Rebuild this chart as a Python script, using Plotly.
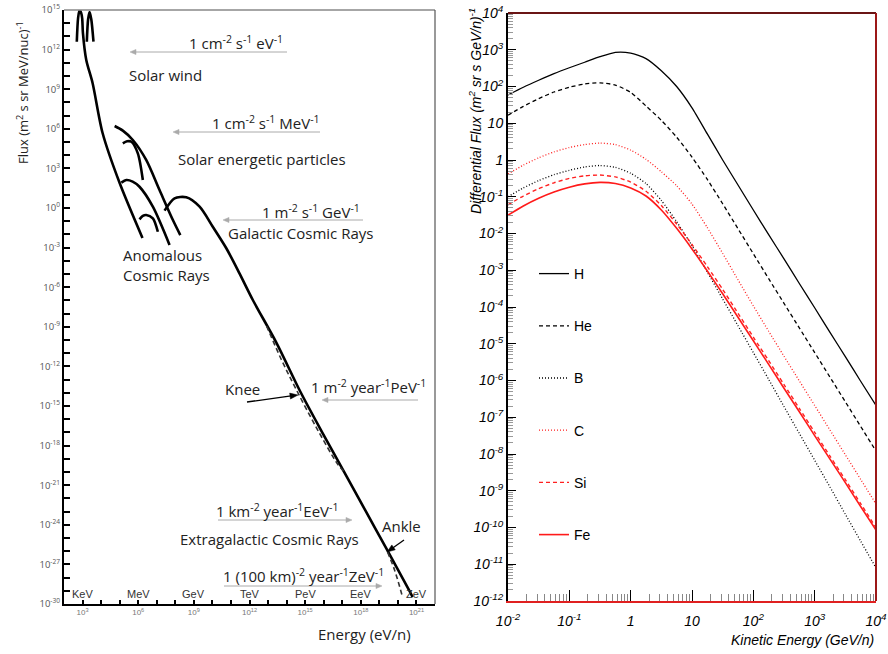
import numpy as np
import plotly.graph_objects as go

W, H = 888, 654

# ---------------- Left panel data (log10 E [eV/n], log10 flux) ----------------
sw1_logE = [2.69, 2.76, 2.84, 2.92, 2.98, 3.02, 3.20, 3.54, 4.08, 5.00, 6.23]
sw1_logF = [12.6, 14.4, 15.0, 14.8, 14.37, 13.26, 11.21, 9.47, 5.68, 1.89, -2.27]
sw2_logE = [3.23, 3.30, 3.38, 3.47, 3.59]
sw2_logF = [12.6, 14.3, 14.85, 14.3, 12.6]
sepA_logE = [4.73, 5.17, 5.71, 6.43, 7.15, 7.87, 8.27]
sepA_logF = [6.21, 5.86, 5.15, 3.64, 1.36, -0.91, -2.05]
sepB_logE = [5.17, 5.40, 5.63, 5.98, 6.25]
sepB_logF = [4.90, 5.05, 5.02, 4.14, 2.12]
acr1_logE = [5.09, 5.36, 5.70, 6.07, 6.79, 7.69]
acr1_logF = [1.92, 2.12, 2.00, 1.61, 0.10, -2.80]
acr2_logE = [6.07, 6.25, 6.43, 6.79, 7.06]
acr2_logF = [-0.86, -0.60, -0.53, -0.78, -1.80]
gcr_logE = [7.42, 7.96, 8.59, 9.31, 10.02, 10.75, 11.46, 12.18, 13.46, 14.75,
            15.94, 17.07, 18.26, 19.39, 20.63, 20.79]
gcr_logF = [-0.20, 0.73, 0.81, 0.10, -1.42, -3.05, -4.95, -6.97, -10.23, -13.94,
            -17.05, -19.92, -22.95, -25.83, -29.02, -29.47]
knee_logE = [12.92, 13.73, 14.48, 15.62, 16.75, 17.07]
knee_logF = [-8.94, -11.52, -13.64, -16.67, -19.39, -19.92]
gzk_logE = [19.44, 19.82, 20.25]
gzk_logF = [-26.06, -27.42, -29.47]

left_ytick_exp = list(range(-30, 16))
left_xtick_exp = list(range(2, 23))
unit_labels = ["KeV", "MeV", "GeV", "TeV", "PeV", "EeV", "ZeV"]
unit_exp = [3, 6, 9, 12, 15, 18, 21]

# ---------------- Right panel data (log10 E [GeV/n], log10 flux) ----------------
logE_r = [-2.0, -1.75, -1.5, -1.25, -1.0, -0.75, -0.5, -0.25, 0.0, 0.25, 0.5, 0.75, 1.0,
          1.25, 1.5, 1.75, 2.0, 2.25, 2.5, 2.75, 3.0, 3.25, 3.5, 3.75, 4.0]
logflux_H = [1.77, 1.98, 2.17, 2.35, 2.51, 2.66, 2.81, 2.93, 2.91, 2.76, 2.43, 2.00, 1.42,
             0.71, 0.0, -0.68, -1.36, -2.03, -2.69, -3.36, -4.02, -4.69, -5.35, -6.02, -6.68]
logflux_He = [1.22, 1.46, 1.67, 1.85, 1.98, 2.07, 2.10, 2.04, 1.84, 1.47, 1.08, 0.62, 0.08,
              -0.53, -1.19, -1.87, -2.55, -3.23, -3.90, -4.57, -5.24, -5.91, -6.58, -7.25, -7.92]
logflux_B = [-1.0, -0.76, -0.56, -0.40, -0.28, -0.19, -0.15, -0.20, -0.36, -0.64, -1.10, -1.68,
             -2.33, -3.05, -3.78, -4.51, -5.24, -5.97, -6.71, -7.44, -8.17, -8.90, -9.64, -10.37, -11.10]
logflux_C = [-0.38, -0.14, 0.06, 0.22, 0.34, 0.42, 0.46, 0.42, 0.27, 0.02, -0.32, -0.70, -1.20,
             -1.84, -2.54, -3.26, -3.97, -4.66, -5.34, -6.01, -6.68, -7.35, -8.02, -8.69, -9.36]
logflux_Si = [-1.22, -0.98, -0.78, -0.62, -0.50, -0.43, -0.41, -0.46, -0.60, -0.85, -1.24, -1.74,
              -2.30, -2.90, -3.52, -4.17, -4.82, -5.46, -6.11, -6.76, -7.41, -8.06, -8.70, -9.35, -10.0]
logflux_Fe = [-1.50, -1.25, -1.04, -0.87, -0.74, -0.65, -0.61, -0.64, -0.76, -0.98, -1.36, -1.86,
              -2.42, -3.02, -3.64, -4.28, -4.92, -5.56, -6.21, -6.85, -7.50, -8.14, -8.78, -9.43, -10.07]

right_ytick_exp = list(range(-12, 5))
right_xtick_exp = list(range(-2, 5))


def pw(v):
    return [10.0 ** a for a in v]


def sup_label(k):
    if k == 0:
        return "1"
    if k == 1:
        return "10"
    return "10<sup>%d</sup>" % k


def px(x):
    return x / W


def py(y):
    return 1 - y / H


fig = go.Figure()

# left curves
for le, lf in [(sw1_logE, sw1_logF), (sw2_logE, sw2_logF), (sepA_logE, sepA_logF),
               (sepB_logE, sepB_logF), (acr1_logE, acr1_logF), (acr2_logE, acr2_logF),
               (gcr_logE, gcr_logF)]:
    fig.add_trace(go.Scatter(x=pw(le), y=pw(lf), mode="lines", xaxis="x", yaxis="y",
                             line=dict(color="black", width=2.6, shape="spline", smoothing=0.8),
                             showlegend=False, hoverinfo="skip"))
for le, lf in [(knee_logE, knee_logF), (gzk_logE, gzk_logF)]:
    fig.add_trace(go.Scatter(x=pw(le), y=pw(lf), mode="lines", xaxis="x", yaxis="y",
                             line=dict(color="#333", width=1.6, dash="5px,3px", shape="spline"),
                             showlegend=False, hoverinfo="skip"))

# right curves
energy_r = pw(logE_r)
series = [
    ("H", logflux_H, "black", "solid", 1.3),
    ("He", logflux_He, "black", "4px,3px", 1.3),
    ("B", logflux_B, "black", "1px,2px", 1.3),
    ("C", logflux_C, "#ff2020", "1px,2px", 1.3),
    ("Si", logflux_Si, "#ff2020", "4px,3px", 1.4),
    ("Fe", logflux_Fe, "#ff1a1a", "solid", 1.6),
]
for name, lf, col, dash, w in series:
    fig.add_trace(go.Scatter(x=energy_r, y=pw(lf), mode="lines", name=name, xaxis="x2", yaxis="y2",
                             legendgroup=name,
                             line=dict(color=col, width=w, dash=dash, shape="spline", smoothing=0.6)))

left_minor_x = [10.0 ** k for k in left_xtick_exp if k % 3 != 0]
left_minor_y = [10.0 ** k for k in left_ytick_exp if k % 3 != 0]
right_minor_x = [m * 10.0 ** k for k in range(-2, 4) for m in (2, 3, 4, 5, 6, 7, 8, 9)]
right_minor_y = [m * 10.0 ** k for k in range(-12, 4) for m in (2, 3, 4, 5, 6, 7, 8, 9)]

lfont = "Open Sans, Lato, sans-serif"
rfont = "Liberation Sans, Arial, sans-serif"

fig.update_layout(
    width=W, height=H, autosize=False,
    margin=dict(l=0, r=0, t=0, b=0, autoexpand=False),
    paper_bgcolor="white", plot_bgcolor="white",
    showlegend=True,
    legend=dict(x=px(534), y=py(258), xanchor="left", yanchor="top",
                font=dict(family=rfont, size=14, color="black"),
                tracegroupgap=31, bgcolor="rgba(0,0,0,0)", itemwidth=30),
    xaxis=dict(domain=[px(64), px(435)], anchor="y", type="log", range=[2, 22], automargin=False,
               showline=True, linecolor="black", linewidth=1.5,
               ticks="inside", ticklen=4, tickwidth=1.5, tickcolor="black",
               tickmode="array", tickvals=[10.0 ** k for k in left_xtick_exp if k % 3 == 0],
               ticktext=["10<sup>%d</sup>" % k for k in left_xtick_exp if k % 3 == 0],
               tickfont=dict(family="Liberation Sans Narrow, Liberation Sans", size=8, color="#777"),
               minor=dict(ticks="inside", ticklen=4, tickwidth=1.5, tickcolor="black",
                          tickmode="array", tickvals=left_minor_x),
               showgrid=False, zeroline=False),
    yaxis=dict(domain=[py(604), py(10)], anchor="x", type="log", range=[-30, 15], automargin=False,
               showline=True, linecolor="black", linewidth=2,
               ticks="inside", ticklen=6, tickwidth=2, tickcolor="black",
               tickmode="array", tickvals=[10.0 ** k for k in left_ytick_exp if k % 3 == 0],
               ticktext=["10<sup>%d</sup>" % k for k in left_ytick_exp if k % 3 == 0],
               tickfont=dict(family=lfont, size=9.5, color="#555"),
               minor=dict(ticks="inside", ticklen=6, tickwidth=2, tickcolor="black",
                          tickmode="array", tickvals=left_minor_y),
               showgrid=False, zeroline=False),
    xaxis2=dict(domain=[px(508), px(876)], anchor="y2", type="log", range=[-2, 4], automargin=False,
                showline=True, linecolor="#e02020", linewidth=1.5,
                ticks="inside", ticklen=11, tickwidth=1, tickcolor="black",
                tickmode="array", tickvals=pw(right_xtick_exp),
                ticktext=["<i>%s</i>" % sup_label(k) for k in right_xtick_exp],
                tickfont=dict(family=rfont, size=14, color="black"), ticklabelstandoff=6,
                minor=dict(ticks="inside", ticklen=7, tickwidth=1, tickcolor="#888",
                           tickmode="array", tickvals=right_minor_x),
                showgrid=False, zeroline=False),
    yaxis2=dict(domain=[py(601), py(13)], anchor="x2", type="log", range=[-12, 4], automargin=False,
                showline=True, linecolor="black", linewidth=2,
                ticks="inside", ticklen=8, tickwidth=1, tickcolor="black",
                tickmode="array", tickvals=pw(right_ytick_exp),
                ticktext=["<i>%s</i>" % sup_label(k) for k in right_ytick_exp],
                tickfont=dict(family=rfont, size=14, color="black"),
                minor=dict(ticks="inside", ticklen=5, tickwidth=1, tickcolor="#999",
                           tickmode="array", tickvals=right_minor_y),
                showgrid=False, zeroline=False),
)

# borders
shapes = [
    dict(type="line", xref="x domain", yref="y domain", x0=0, x1=1, y0=1, y1=1,
         line=dict(color="#888", width=1.5)),
    dict(type="line", xref="x domain", yref="y domain", x0=1, x1=1, y0=0, y1=1,
         line=dict(color="#555", width=1.2)),
    dict(type="line", xref="x2 domain", yref="y2 domain", x0=0, x1=1, y0=1, y1=1,
         line=dict(color="#6a1515", width=2)),
    dict(type="line", xref="x2 domain", yref="y2 domain", x0=1, x1=1, y0=0, y1=1,
         line=dict(color="#9c1818", width=2)),
]


def arrow(x0, y0, x1, y1, color="#aaa", width=1.0, hl=6.0, hw=2.6):
    dx, dy = x1 - x0, y1 - y0
    L = (dx * dx + dy * dy) ** 0.5
    ux, uy = dx / L, dy / L
    bx, by = x1 - ux * hl, y1 - uy * hl
    shapes.append(dict(type="line", xref="paper", yref="paper",
                       x0=px(x0), y0=py(y0), x1=px(bx + ux), y1=py(by + uy),
                       line=dict(color=color, width=width)))
    p1 = (bx - uy * hw, by + ux * hw)
    p2 = (bx + uy * hw, by - ux * hw)
    path = "M %f,%f L %f,%f L %f,%f Z" % (px(x1), py(y1), px(p1[0]), py(p1[1]), px(p2[0]), py(p2[1]))
    shapes.append(dict(type="path", xref="paper", yref="paper", path=path,
                       fillcolor=color, line=dict(color=color, width=0.5)))


ann = []


def text(t, x, y, size=15, xanchor="center", family=lfont, color="#222", angle=0, align="center"):
    ann.append(dict(text=t, x=px(x), y=py(y), xref="paper", yref="paper", showarrow=False,
                    xanchor=xanchor, yanchor="middle", textangle=angle, align=align,
                    font=dict(family=family, size=size, color=color)))


text("1 cm<sup>-2</sup> s<sup>-1</sup> eV<sup>-1</sup>", 236, 42)
arrow(287, 52, 130, 52)
text("Solar wind", 165, 75)
text("1 cm<sup>-2</sup> s<sup>-1</sup> MeV<sup>-1</sup>", 266, 123)
arrow(320, 132, 173, 132)
text("Solar energetic particles", 262, 159)
text("1 m<sup>-2</sup> s<sup>-1</sup> GeV<sup>-1</sup>", 311, 211)
arrow(363, 220, 223, 220)
text("Galactic Cosmic Rays", 300, 233)
text("Anomalous<br>Cosmic Rays", 121, 265, xanchor="left", align="left")
text("Knee", 243, 389)
arrow(247, 402, 298, 395, color="black", width=1.3, hl=8, hw=3)
text("1 m<sup>-2</sup> year<sup>-1</sup>PeV<sup>-1</sup>", 368, 386)
arrow(418, 400, 322, 400)
text("1 km<sup>-2</sup> year<sup>-1</sup>EeV<sup>-1</sup>", 277, 510)
arrow(218, 520, 352, 520)
text("Extragalactic Cosmic Rays", 269, 539)
text("Ankle", 401, 526)
arrow(404, 540, 387, 552, color="black", width=1.3, hl=8, hw=3)
text("1 (100 km)<sup>-2</sup> year<sup>-1</sup>ZeV<sup>-1</sup>", 303, 575)
arrow(224, 586, 382, 586)
text("Energy (eV/n)", 364, 634, size=15)
text("Flux (m<sup>2</sup> s sr MeV/nuc)<sup>-1</sup>", 22, 93, size=13, angle=-90)

for lab, k in zip(unit_labels, unit_exp):
    ann.append(dict(text=lab, x=k, y=py(594), xref="x", yref="paper", showarrow=False,
                    xanchor="center", yanchor="middle",
                    font=dict(family="Liberation Sans Narrow, Liberation Sans", size=11, color="#333")))

text("<i>Differential Flux (m<sup>2</sup> sr s GeV/n)<sup>-1</sup></i>", 475, 111, size=14,
     family=rfont, color="black", angle=-90)
text("<i>Kinetic Energy (GeV/n)</i>", 876, 640, size=14, xanchor="right", family=rfont, color="black")

fig.update_layout(annotations=ann, shapes=shapes)
fig.write_html("out.html")
